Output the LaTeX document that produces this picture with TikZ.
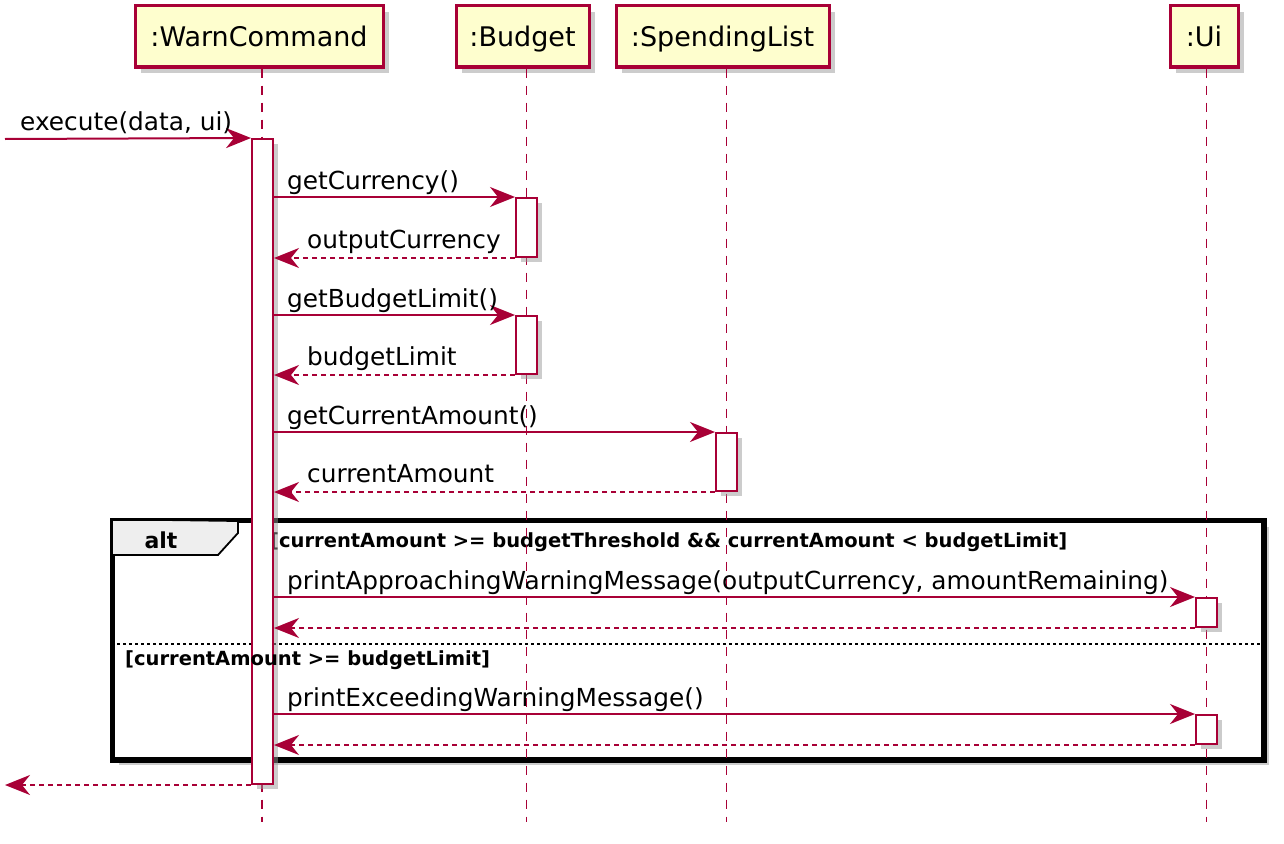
\documentclass[tikz,border=0pt]{standalone}
\usepackage{fontspec}
\setmainfont{DejaVu Sans}
\usetikzlibrary{arrows.meta,shadows}
\definecolor{umlred}{HTML}{A80036}
\definecolor{umlfill}{HTML}{FEFECE}
\definecolor{tabfill}{HTML}{EEEEEE}
\begin{document}
\begin{tikzpicture}[x=1pt,y=-1pt,
  part/.style={draw=umlred, line width=3pt, fill=umlfill, inner sep=0pt,
    minimum height=61pt, text height=24pt, text depth=3pt, font=\fontsize{27}{32}\selectfont,
    drop shadow={shadow xshift=6pt, shadow yshift=-6pt, fill=black!40, opacity=0.5}},
  life/.style={draw=umlred, line width=1.5pt, dash pattern=on 9pt off 8pt},
  act/.style={draw=umlred, line width=2pt, fill=white, inner sep=0pt, minimum width=21pt,
    drop shadow={shadow xshift=4.5pt, shadow yshift=-5pt, fill=black!40, opacity=0.5}},
  msg/.style={draw=umlred, line width=2pt, -{Stealth[length=25pt,width=20pt,inset=8pt]}},
  ret/.style={msg, dash pattern=on 5pt off 4pt},
  lbl/.style={anchor=base west, inner sep=0pt, font=\fontsize{24.8}{29}\selectfont},
  cond/.style={anchor=base west, inner sep=0pt, font=\fontsize{19.5}{23}\selectfont\bfseries},
  frame/.style={draw=black, line width=3.5pt, fill=white, inner sep=0pt,
    drop shadow={shadow xshift=6pt, shadow yshift=-6pt, fill=black!40, opacity=0.5}},
]
\useasboundingbox (0,0) rectangle (1284,843);

% participants
\node[part, minimum width=248pt] (wc) at (259,36.5) {:WarnCommand};
\node[part, minimum width=133pt] (bu) at (522.5,36.5) {:Budget};
\node[part, minimum width=213pt] (sl) at (722.5,36.5) {:SpendingList};
\node[part, minimum width=68pt] (ui) at (1204,36.5) {:Ui};

% alt frame
\node[frame, minimum width=1150pt, minimum height=238pt] (alt) at (688,640) {};
\draw[fill=tabfill, line width=1.8pt] (alt.north west) -- (238,521) -- (238,533) -- (218,555) -- (alt.west |- 0,555) -- cycle;
\draw[draw=black, line width=3.5pt] (alt.north west) rectangle (alt.south east);
\node[anchor=base, inner sep=0pt, font=\fontsize{22}{26}\selectfont\bfseries] (altlbl) at (161,548) {alt};
\node[cond] (c1) at (270,547) {[currentAmount >= budgetThreshold \&\& currentAmount < budgetLimit]};
\coordinate (sepy) at (0,644);
\draw[black, line width=1.5pt, dash pattern=on 3pt off 3pt] (alt.west |- sepy) -- (alt.east |- sepy);

% lifelines
\coordinate (wcE) at (262,822);
\coordinate (buE) at (526.5,822);
\coordinate (slE) at (726.5,822);
\coordinate (uiE) at (1206.5,822);
\draw[life] (wcE |- wc.south) -- (wcE);
\draw[life] (buE |- bu.south) -- (buE);
\draw[life] (slE |- sl.south) -- (slE);
\draw[life] (uiE |- ui.south) -- (uiE);

% activations
\node[act, minimum height=645pt] (aWC) at (262.5,461.5) {};
\node[act, minimum height=59pt] (aB1) at (526.5,227.5) {};
\node[act, minimum height=58pt] (aB2) at (526.5,345) {};
\node[act, minimum height=58pt] (aS) at (726.5,462) {};
\node[act, minimum height=29pt] (aU1) at (1206.5,612.5) {};
\node[act, minimum height=29pt] (aU2) at (1206.5,729.5) {};

\node[cond] (c2) at (125,665) {[currentAmount >= budgetLimit]};

% messages
\coordinate (src) at (5,139);
\draw[msg] (src) -- (aWC.north west);
\node[lbl] (m0) at (20,130.5) {execute(data, ui)};

\draw[msg] (aWC.east |- aB1.north) -- (aB1.north west);
\node[lbl] (m1) at (287,189.5) {getCurrency()};
\draw[ret] (aB1.south west) -- (aWC.east |- aB1.south);
\node[lbl] (r1) at (307,248.5) {outputCurrency};

\draw[msg] (aWC.east |- aB2.north) -- (aB2.north west);
\node[lbl] (m2) at (287,307.5) {getBudgetLimit()};
\draw[ret] (aB2.south west) -- (aWC.east |- aB2.south);
\node[lbl] (r2) at (307,365.5) {budgetLimit};

\draw[msg] (aWC.east |- aS.north) -- (aS.north west);
\node[lbl] (m3) at (287,424.5) {getCurrentAmount()};
\draw[ret] (aS.south west) -- (aWC.east |- aS.south);
\node[lbl] (r3) at (307,482.5) {currentAmount};

\draw[msg] (aWC.east |- aU1.north) -- (aU1.north west);
\node[lbl] (m4) at (287,589.5) {printApproachingWarningMessage(outputCurrency, amountRemaining)};
\draw[ret] (aU1.south west) -- (aWC.east |- aU1.south);

\draw[msg] (aWC.east |- aU2.north) -- (aU2.north west);
\node[lbl] (m5) at (287,706.5) {printExceedingWarningMessage()};
\draw[ret] (aU2.south west) -- (aWC.east |- aU2.south);

\coordinate (dst) at (5,785);
\draw[ret] (aWC.south west) -- (dst);
\end{tikzpicture}
\end{document}
